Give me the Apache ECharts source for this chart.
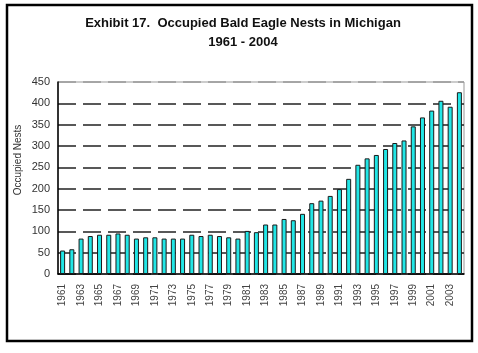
<!DOCTYPE html>
<html>
<head>
<meta charset="utf-8">
<script src="https://cdn.jsdelivr.net/npm/echarts@6/dist/echarts.min.js"></script>
<style>
  html, body { margin: 0; padding: 0; background: #fff; }
  #chart { width: 478px; height: 353px; }
</style>
</head>
<body>
<div id="chart"></div>
<script>
const years = []
for (let y = 1961; y <= 2004; y++) years.push(String(y))

// occupied nests
const nests = [
  55, 58, 83, 89, 92, 92, 95, 92, 83, 86,
  86, 83, 83, 83, 92, 89, 92, 89, 86, 83,
  101, 98, 116, 116, 129, 126, 141, 166, 172, 183,
  199, 223, 256, 271, 279, 293, 307, 313, 346, 367,
  383, 406, 392, 426
]

const yTicks = [0, 50, 100, 150, 200, 250, 300, 350, 400, 450]

const titleLines = ['Exhibit 17.  Occupied Bald Eagle Nests in Michigan', '1961 - 2004']

const chart = echarts.init(document.getElementById('chart'))

// grid lines: dark dashes, top one is just the grey frame
const splitColors = yTicks.map((v) => (v === 450 ? '#999' : '#222'))

const titleFont = 'bold 13px "Liberation Sans", Arial'

chart.setOption({
  animation: false,
  grid: {
    left: 58, right: 14, top: 82, bottom: 79,
    show: true,
    borderColor: '#999',
    borderWidth: 1,
  },
  graphic: [
    {
      type: 'rect',
      shape: { x: 7, y: 5, width: 465, height: 336 },
      style: { fill: 'none', stroke: '#000', lineWidth: 2.5 },
      silent: true,
    },
    {
      type: 'text',
      x: 243, y: 23,
      style: { text: titleLines[0], font: titleFont, fill: '#111', align: 'center', verticalAlign: 'middle' },
    },
    {
      type: 'text',
      x: 243, y: 42,
      style: { text: titleLines[1], font: titleFont, fill: '#111', align: 'center', verticalAlign: 'middle' },
    },
    {
      type: 'text',
      x: 18, y: 160,
      rotation: Math.PI / 2,
      style: {
        text: 'Occupied Nests',
        font: '10px "Liberation Sans", Arial',
        fill: '#333',
        align: 'center',
        verticalAlign: 'middle',
      },
    },
  ],
  xAxis: {
    type: 'category',
    data: years,
    axisLine: { lineStyle: { color: '#000', width: 1.5 } },
    axisTick: { show: false },
    axisLabel: {
      interval: 1,
      rotate: 90,
      margin: 10,
      fontFamily: 'Liberation Sans, Arial',
      fontSize: 10,
      color: '#444',
    },
  },
  yAxis: {
    type: 'value',
    min: 0,
    max: 450,
    interval: 50,
    axisLine: { show: true, lineStyle: { color: '#000', width: 1.5 } },
    axisTick: { show: false },
    axisLabel: {
      margin: 8,
      fontFamily: 'Liberation Sans, Arial',
      fontSize: 11,
      color: '#333',
    },
    splitLine: {
      show: true,
      lineStyle: { color: splitColors, width: 1.5, type: [18, 7] },
    },
  },
  series: [
    {
      type: 'bar',
      data: nests,
      barWidth: 5,
      itemStyle: { color: '#22E6E6', borderColor: '#1a1a1a', borderWidth: 1 },
    },
  ],
})
</script>
</body>
</html>
